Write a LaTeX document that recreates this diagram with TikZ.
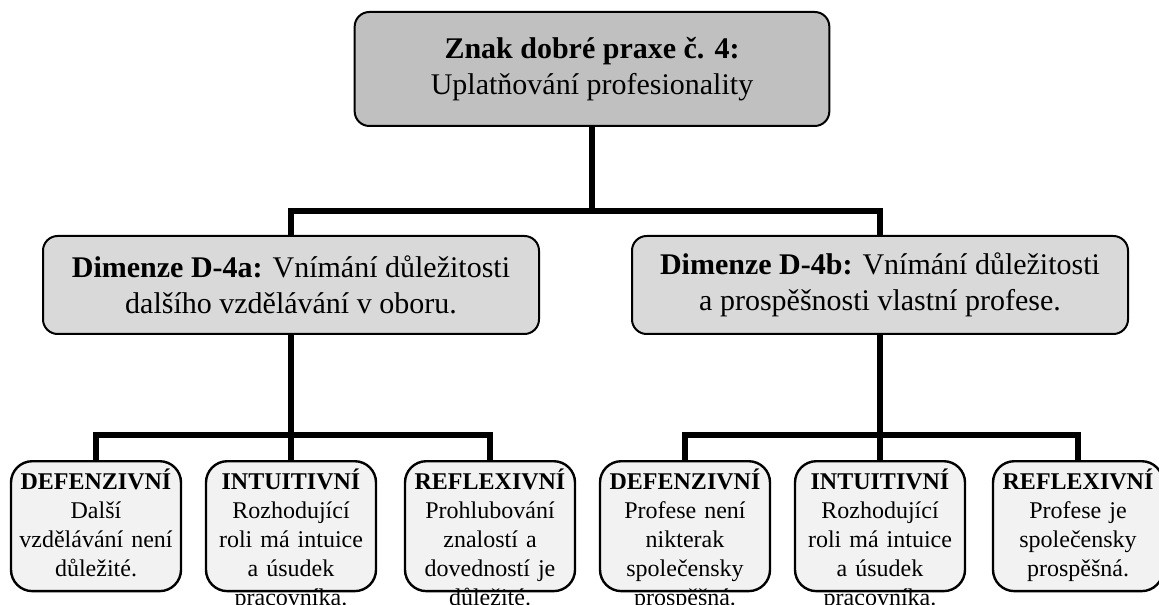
\documentclass[tikz,border=0pt]{standalone}
\usepackage{fontspec}
\setmainfont{Liberation Serif}
\definecolor{topgray}{HTML}{C0C0C0}
\definecolor{midgray}{HTML}{D9D9D9}
\definecolor{leafgray}{HTML}{F2F2F2}
\begin{document}
\begin{tikzpicture}[x=0.75pt,y=-0.75pt,
  box/.style={draw=black, line width=1.5pt, rounded corners=11pt, align=center, inner sep=0pt},
  topbox/.style={box, fill=topgray, minimum width=356pt, minimum height=85.5pt,
    font=\fontsize{22.5}{27}\selectfont},
  midbox/.style={box, fill=midgray, minimum height=73.5pt,
    font=\fontsize{22.5}{27}\selectfont},
  leaf/.style={draw=black, line width=1.8pt, rounded corners=16pt, fill=leafgray,
    anchor=north, align=center, text width=117pt, inner xsep=5pt, inner ysep=6pt,
    minimum width=127.5pt, text depth=70pt, font=\fontsize{18}{21.75}\selectfont},
  conn/.style={line width=4pt, line join=miter}
]
\useasboundingbox (0,0) rectangle (1159,605);
\clip (0,0) rectangle (1159,605);

\node[topbox] (top) at (592,69) {\textbf{Znak dobré praxe č. 4:}\\Uplatňování profesionality};

\node[midbox, minimum width=372pt] (midL) at (291,285)
  {\textbf{Dimenze D-4a:} Vnímání důležitosti\\dalšího vzdělávání v oboru.};
\node[midbox, minimum width=372pt] (midR) at (880,285)
  {\textbf{Dimenze D-4b:} Vnímání důležitosti\\a prospěšnosti vlastní profese.};

\node[leaf] (b1) at (96,460) {\textbf{DEFENZIVNÍ}\\Další\\vzdělávání není\\důležité.};
\node[leaf] (b2) at (291,460) {\textbf{INTUITIVNÍ}\\Rozhodující\\roli má intuice\\a úsudek\\pracovníka.};
\node[leaf] (b3) at (490,460) {\textbf{REFLEXIVNÍ}\\Prohlubování\\znalostí a\\dovedností je\\důležité.};
\node[leaf] (b4) at (685,460) {\textbf{DEFENZIVNÍ}\\Profese není\\nikterak\\společensky\\prospěšná.};
\node[leaf] (b5) at (880,460) {\textbf{INTUITIVNÍ}\\Rozhodující\\roli má intuice\\a úsudek\\pracovníka.};
\node[leaf] (b6) at (1078,460) {\textbf{REFLEXIVNÍ}\\Profese je\\společensky\\prospěšná.};

\coordinate (j0) at (592,211);
\coordinate (jL) at (291,435);
\coordinate (jR) at (880,435);

\draw[conn] (top.south) -- (j0);
\draw[conn] (midL.north) |- (j0) -| (midR.north);
\draw[conn] (midL.south) -- (b2.north);
\draw[conn] (b1.north) |- (jL) -| (b3.north);
\draw[conn] (midR.south) -- (b5.north);
\draw[conn] (b4.north) |- (jR) -| (b6.north);
\end{tikzpicture}
\end{document}
